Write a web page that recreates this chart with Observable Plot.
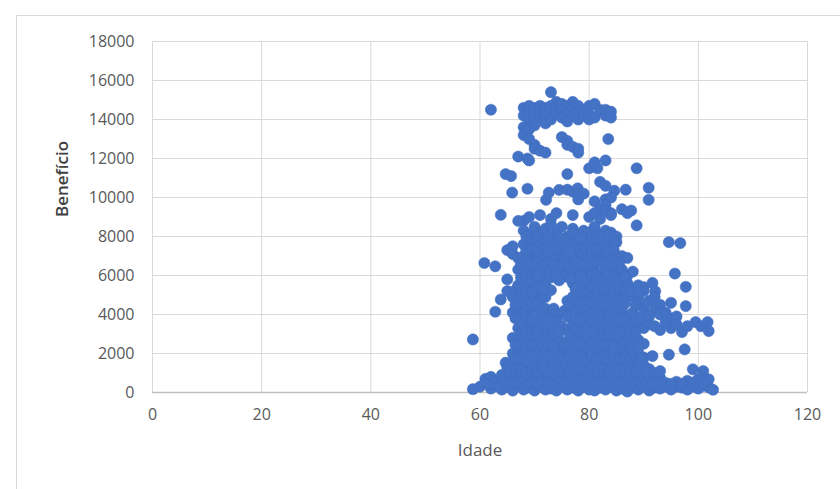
<!DOCTYPE html>
<html>
<head>
<meta charset="utf-8">
<script src="https://cdn.jsdelivr.net/npm/d3@7"></script>
<script src="https://cdn.jsdelivr.net/npm/@observablehq/plot@0.6"></script>
<style>
  html, body { margin: 0; padding: 0; background: #fff; }
  #wrap { position: relative; width: 840px; height: 489px; overflow: hidden; }
  #frame { position: absolute; left: 16px; top: 15px; width: 900px; height: 600px; border: 1px solid #d9d9d9; box-sizing: border-box; }
  #chart { position: absolute; left: 0; top: 0; }
</style>
</head>
<body>
<div id="wrap"><div id="frame"></div><div id="chart"></div></div>
<script>
// Axis ticks
const xTicks = [0, 20, 40, 60, 80, 100, 120];
const yTicks = [0, 2000, 4000, 6000, 8000, 10000, 12000, 14000, 16000, 18000];

// Points [Idade, Benefício], grouped by region
const topCluster = [
  [62,14500],[73,15400],[74,14900],[77,14900],
  [68,14600],[68,14200],[69,14700],[69,14400],[69,14000],[70,14600],[70,14300],[70,13900],
  [71,14700],[71,14400],[71,14100],[72,14600],[72,14200],[72,13800],[73,14700],[73,14400],
  [73,14000],[74,14600],[74,14300],[75,14800],[75,14500],[75,14100],[76,14700],[76,14300],
  [76,13900],[77,14600],[77,14200],[78,14700],[78,14400],[78,14000],[79,14500],[79,14200],
  [80,14700],[80,14300],[80,14000],[81,14800],[81,14100],[82,14500],[83,14200],[83,14500],
  [84,14400],[84,14100],[68,13600],[68,13200],[69,13500],[70,13700]
];
const upperMid = [
  [69,13000],[70,12700],[70,12500],[71,12400],[72,12300],[75,13100],[76,12900],[76,12700],
  [77,12600],[78,12500],[78,12300],[83.5,13000],[67,12100],[68.7,12000],[69,11900],[64.7,11200],
  [65.7,11100],[65.9,10250],[68.7,10450],[76,11200],[80,11500],[81,11800],[81.5,11500],[83,11900],
  [88.7,11500],[90.9,10500],[90.9,9880],[87.7,9330],[88.7,8570],[63.8,9110],[72.1,9880],[72.6,10250],
  [74.5,10390],[76,10400],[77,10300],[77.9,10470],[78,9900],[79,10200],[82,10800],[83,10600],
  [81,9800],[82,9400],[83,9900],[84,9200],[84.6,10350],[86.7,10400],[86,9400],[87,9200],
  [80,9000],[81,9200],[84,10000],[83,9600]
];
const middle = [
  [68,8800],[69,9000],[71,9100],[73,8900],[74,9200],[77,9100],[82,8900],[83,9300],[84,9100],
  [67,8800],[68,8300],[69,8100],[70,8500],[71,8200],[72,8400],[73,8600],[74,8200],[75,8500],
  [77,8400],[78,8100],[79,8300],[80,8200],[81,8500],[82,8100],[83,8300],[84,8200],[85,8000],
  [66,7500],[68,7600],[69,7800],[70,7500],[71,7700],[72,7400],[73,7600],[74,7800],[76,7500],
  [77,7700],[78,7400],[79,7800],[80,7600],[81,7500],[82,7700],[83,7800],[84,7500],[85,7700],
  [94.6,7710],[96.7,7660],
  [65,7300],[66,7100],[67,6900],[68,7000],[69,6800],[70,7200],[71,6900],[72,7100],[73,6800],
  [74,7000],[75,7300],[78,6900],[79,7100],[80,6800],[81,7000],[82,7200],[83,6900],[84,7100],
  [85,6800],[86,7000],[87,6900],
  [60.8,6640],[62.8,6470],[67,6300],[68,6100],[69,6400],[70,6200],[71,6500],[72,6100],[73,6300],
  [74,6100],[75,6400],[76,6200],[77,6000],[78,6300],[79,6100],[80,6400],[81,6200],[82,6000],
  [83,6300],[84,6500],[85,6100],[86,6300],[87,6000],[88,6200],[95.7,6100],
  [65,5800],[67,5500],[68,5700],[69,5400],[70,5600],[71,5800],[72,5500],[73,5900],[77,5600],
  [78,5800],[79,5500],[80,5700],[81,5400],[82,5600],[83,5800],[84,5500],[85,5700],[86,5400],
  [87,5600],[88,5300],[89,5500],[90,5400],[91.6,5620],[92.1,5190],[97.7,5420],
  [63.8,4770],[65,5200],[66,4900],[67,4700],[68,5000],[69,4800],[70,5100],[71,4700],[72,4900],
  [76,4700],[77,4900],[78,5000],[79,4800],[80,5100],[81,4700],[82,4900],[83,5000],[84,4800],
  [85,5100],[86,4700],[87,4900],[88,5000],[89,4800],[90,5200],[91,4700],[92,4900],[93,4500],[95,4600],
  [73,5250],[74.5,6600],[75.5,6850],[76,7050],[74,7350],[76.5,6350],[77,7250],[75,7750],[76,8000],
  [77,8150],[75.5,5950],[74,6050]
];
const lower = [
  [62.8,4140],[66,4100],[67,4300],[68,4000],[69,4200],[70,4400],[71,4100],[72,4300],[73,4000],
  [76,4200],[77,4400],[78,4100],[79,4300],[80,4000],[81,4200],[82,4400],[83,4100],[84,4300],
  [85,4000],[86,4200],[87,3900],[88,4100],[90,4300],[92,4200],[93,4000],[94,4100],[95,3800],
  [96,3900],[97.7,4430],[73.5,4300],[74.5,4000],[75.5,4200],[74,3700],[76,3900],
  [67,3300],[68,3500],[69,3200],[70,3600],[71,3300],[72,3500],[73,3200],[74,3600],[75,3400],
  [76,3200],[77,3500],[78,3300],[79,3600],[80,3400],[81,3200],[82,3500],[83,3300],[84,3600],
  [85,3400],[86,3200],[87,3500],[88,3300],[89,3400],[90,3300],[91,3500],[92,3400],[93,3200],
  [94,3600],[95,3300],[96,3500],[97,3100],[98,3400],[99.5,3610],[100.5,3400],[101.7,3610],
  [101.9,3150],
  [58.7,2720],[66,2800],[67,2600],[68,2900],[69,2700],[70,2500],[71,2800],[72,3000],[73,2700],
  [74,2900],[75,2600],[77,2800],[78,2700],[79,2500],[80,2800],[81,2700],[82,2600],[83,2900],
  [84,2700],[85,2500],[86,2800],[87,2600],[88,2900],[89,2700],[90,2500],
  [66,2000],[67,2200],[68,1900],[69,2100],[70,2300],[71,1900],[72,2100],[73,2000],[74,2300],
  [75,1900],[76,2200],[77,2000],[78,2100],[79,1900],[80,2300],[81,2000],[82,2200],[83,1900],
  [84,2100],[85,2300],[86,2000],[87,2200],[88,2500],[89,2000],[90,1800],[91.6,1870],[94.6,1940],
  [97.5,2210]
];
const bottom = [
  [64.7,1530],[65,1300],[66,1600],[67,1400],[68,1200],[69,1700],[70,1400],[71,1500],[72,1300],
  [73,1700],[74,1400],[75,1600],[76,1300],[77,1500],[78,1700],[79,1400],[80,1600],[81,1300],
  [82,1500],[83,1700],[84,1400],[85,1600],[86,1200],[87,1500],[88,1300],[89,1600],[90,1400],
  [91,1200],[99,1190],[100.9,1100],[101.9,680],
  [61,700],[62,800],[63,600],[64,900],[65,700],[66,1000],[67,800],[68,600],[69,900],[70,700],
  [71,1000],[72,800],[73,650],[74,900],[75,750],[76,1000],[77,700],[78,850],[79,650],[80,950],
  [81,750],[82,900],[83,700],[84,1000],[85,800],[86,650],[87,900],[88,750],[89,1000],[90,700],
  [91,850],[92,600],[93,750],[94,500],[96,550],[98,600],[100,700],
  [58.7,170],[60,300],[61,500],[62,200],[63,400],[64,150],[65,300],[66,100],[67,350],[68,150],
  [69,250],[70,100],[71,300],[72,150],[73,200],[74,100],[75,300],[76,150],[77,250],[78,100],
  [79,300],[80,150],[81,100],[82,250],[83,150],[84,300],[85,100],[86,200],[87,50],[88,250],
  [89,150],[90,300],[91,100],[92,250],[93,200],[94,300],[95,150],[96,300],[97,250],[98,150],
  [99,300],[100,200],[101,350],[102,250],[102.7,140]
];
// extra points seen filling the dense parts of the cloud
const denseFill = [
  [61.5,450],[62.5,500],[63.5,300],[64.5,550],[65.5,450],[66.5,500],[67.5,450],[68.5,400],
  [69.5,500],[70.5,450],[71.5,550],[72.5,450],[73.5,400],[74.5,500],[75.5,450],[76.5,550],
  [77.5,400],[78.5,500],[79.5,450],[80.5,400],[81.5,500],[82.5,450],[83.5,550],[84.5,400],
  [85.5,500],[86.5,450],[87.5,400],[88.5,500],[89.5,450],[90.5,500],[91.5,400],[92.5,450],
  [93.5,350],[95,450],[97,450],[99,500],[101,500],
  [65.5,1050],[66.5,1150],[67.5,1100],[68.5,1000],[69.5,1200],[70.5,1100],[71.5,1250],[72.5,1050],
  [73.5,1150],[74.5,1100],[75.5,1200],[76.5,1050],[77.5,1150],[78.5,1250],[79.5,1050],[80.5,1200],
  [81.5,1100],[82.5,1150],[83.5,1050],[84.5,1200],[85.5,1100],[86.5,1000],[87.5,1150],[88.5,1050],
  [89.5,1200],[90.5,1050],[92,1000],[93,1100],
  [66.5,1800],[67.5,1750],[68.5,1650],[69.5,1850],[70.5,1800],[71.5,1700],[72.5,1850],[73.5,1750],
  [74.5,1800],[75.5,1700],[76.5,1850],[77.5,1750],[78.5,1800],[79.5,1700],[80.5,1850],[81.5,1750],
  [82.5,1800],[83.5,1700],[84.5,1850],[85.5,1750],[86.5,1800],[87.5,1700],[88.5,1850],[89.5,1750],
  [66.5,2450],[67.5,2400],[68.5,2350],[69.5,2500],[71.5,2400],[72.5,2500],[73.5,2350],[75.5,2450],
  [76.5,2400],[77.5,2350],[78.5,2450],[80.5,2400],[81.5,2350],[82.5,2450],[83.5,2400],[84.5,2350],
  [86.5,2400],[87.5,2350],[89,2300],
  [67.5,3000],[68.5,3100],[69.5,2950],[70.5,3050],[73.5,3000],[74.5,3100],[76.5,2950],[78.5,3050],
  [79.5,3000],[80.5,3100],[82.5,3000],[83.5,3100],[84.5,2950],[85.5,3050],[87.5,3000],[88.5,3100],
  [66.5,3800],[67.5,3750],[68.5,3850],[69.5,3700],[70.5,3800],[71.5,3850],[72.5,3700],[77.5,3800],
  [78.5,3750],[79.5,3850],[80.5,3700],[81.5,3800],[82.5,3750],[83.5,3850],[84.5,3700],[85.5,3800],
  [86.5,3750],[88.5,3700],[89.5,3850],[91,3900],
  [66.5,4500],[67.5,4550],[68.5,4450],[69.5,4600],[70.5,4500],[76.5,4450],[78.5,4550],[79.5,4500],
  [80.5,4600],[81.5,4450],[82.5,4550],[83.5,4500],[84.5,4600],[85.5,4450],[86.5,4550],[88.5,4500],
  [90.5,4600],[92,4600],
  [66.5,5250],[67.5,5300],[68.5,5200],[69.5,5150],[70.5,5350],[71.5,5250],[77.5,5300],[78.5,5200],
  [79.5,5250],[80.5,5350],[81.5,5200],[82.5,5300],[83.5,5250],[84.5,5150],[85.5,5350],[86.5,5250],
  [87.5,5200],[89,5100],
  [67.5,5900],[68.5,5950],[69.5,5800],[70.5,6000],[74.5,5750],[76.5,5850],[78.5,5950],[79.5,5800],
  [80.5,6000],[81.5,5850],[82.5,5750],[83.5,6000],[84.5,5900],[85.5,5800],[86.5,5950],
  [67.5,6600],[68.5,6650],[69.5,6550],[70.5,6700],[71.5,6600],[72.5,6650],[73.5,6550],[76.5,6600],
  [77.5,6700],[79.5,6600],[80.5,6550],[81.5,6650],[82.5,6600],[83.5,6700],[84.5,6550],[85.5,6650],
  [68.5,7300],[69.5,7350],[70.5,7250],[71.5,7350],[72.5,7250],[76.5,7200],[79.5,7350],[80.5,7250],
  [81.5,7300],[82.5,7350],[83.5,7250],[84.5,7300],
  [68.5,8000],[69.5,7950],[70.5,8050],[72.5,8000],[74.5,7950],[78.5,7900],[80.5,8000],[81.5,7900],
  [82.5,8000],[83.5,8050],[84.5,7800]
];

const data = [...topCluster, ...upperMid, ...middle, ...lower, ...bottom, ...denseFill]
  .map(([idade, beneficio]) => ({idade, beneficio}));

const chart = Plot.plot({
  width: 840,
  height: 489,
  marginLeft: 152,
  marginRight: 33,
  marginTop: 41,
  marginBottom: 97,
  style: {fontFamily: "'Open Sans', sans-serif", fontSize: "17px", color: "#595959", background: "transparent"},
  x: {domain: [0, 120]},
  y: {domain: [0, 18000]},
  marks: [
    Plot.gridY(yTicks, {stroke: "#d9d9d9", strokeOpacity: 1}),
    Plot.gridX(xTicks, {stroke: "#d9d9d9", strokeOpacity: 1}),
    Plot.ruleY([0], {stroke: "#bfbfbf", strokeWidth: 1.5}),
    Plot.axisY(yTicks, {tickSize: 0, tickPadding: 18, tickFormat: d3.format("d"), fontSize: 16,
      label: null}),
    Plot.axisX(xTicks, {tickSize: 0, tickPadding: 16, tickFormat: d3.format("d"), fontSize: 16,
      label: null}),
    Plot.text(["Idade"], {frameAnchor: "bottom", dy: 63, fontSize: 17, fill: "#595959"}),
    Plot.text(["Benefício"], {frameAnchor: "left", dx: -90, rotate: -90, fontSize: 17, fontWeight: 600, fill: "#404040"}),
    Plot.dot(data, {x: "idade", y: "beneficio", r: 5.6, fill: "#4472C4", stroke: "#3f6cc0", strokeWidth: 0.5})
  ]
});
document.getElementById("chart").appendChild(chart);
</script>
</body>
</html>
